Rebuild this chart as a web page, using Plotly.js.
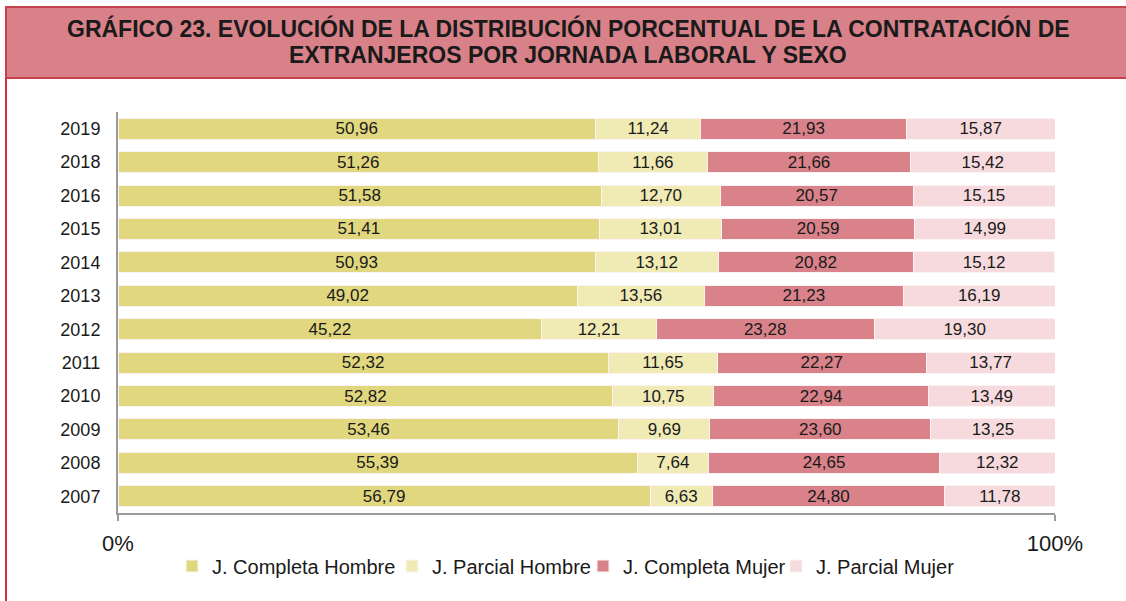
<!DOCTYPE html>
<html>
<head>
<meta charset="utf-8">
<script src="https://cdn.plot.ly/plotly-3.0.1.min.js"></script>
<style>html,body{margin:0;padding:0;background:#fff;}#chart{width:1126px;height:601px;}</style>
</head>
<body>
<div id="chart"></div>
<script>
const years = ["2019","2018","2016","2015","2014","2013","2012","2011","2010","2009","2008","2007"];
const seriesNames = ["J. Completa Hombre","J. Parcial Hombre","J. Completa Mujer","J. Parcial Mujer"];
const completaHombre = [50.96,51.26,51.58,51.41,50.93,49.02,45.22,52.32,52.82,53.46,55.39,56.79];
const parcialHombre  = [11.24,11.66,12.70,13.01,13.12,13.56,12.21,11.65,10.75,9.69,7.64,6.63];
const completaMujer  = [21.93,21.66,20.57,20.59,20.82,21.23,23.28,22.27,22.94,23.60,24.65,24.80];
const parcialMujer   = [15.87,15.42,15.15,14.99,15.12,16.19,19.30,13.77,13.49,13.25,12.32,11.78];
const xTickVals = [0,100];
const xTickText = ["0%","100%"];
const titleLines = ["GRÁFICO 23. EVOLUCIÓN DE LA DISTRIBUCIÓN PORCENTUAL DE LA CONTRATACIÓN DE",
                    "EXTRANJEROS POR JORNADA LABORAL Y SEXO"];
const colors = ["#e0d77f","#f0eab5","#d9828a","#f6dadd"];

const FONT = 'Liberation Sans, Arial, sans-serif';
const allSeries = [completaHombre, parcialHombre, completaMujer, parcialMujer];
const legendIds = ['legend', 'legend2', 'legend3', 'legend4'];
// left pixel of each legend entry
const legendLeft = [172, 392, 583, 776];
const fmt = v => v.toFixed(2).replace('.', ',');

const traces = allSeries.map((vals, i) => ({
  type: 'bar',
  orientation: 'h',
  name: seriesNames[i],
  legend: legendIds[i],
  y: years,
  x: vals,
  text: vals.map(fmt),
  textposition: 'inside',
  insidetextanchor: 'middle',
  textangle: 0,
  insidetextfont: {family: FONT, size: 17, color: '#1a1a1a'},
  hoverinfo: 'skip',
  marker: {color: colors[i], line: {color: '#fbf3f3', width: 1}}
}));

// plot area in pixels: x 118..1055, y 112..513
const L = 118, R = 1055, T = 112, B = 513;
const px = p => (p - L) / (R - L);
const py = p => (B - p) / (B - T);

const layout = {
  width: 1126, height: 601,
  margin: {l: L, r: 1126 - R, t: T, b: 601 - B},
  paper_bgcolor: '#ffffff',
  plot_bgcolor: '#ffffff',
  barmode: 'stack',
  bargap: 0.37,
  uniformtext: {mode: 'show', minsize: 17},
  showlegend: true,
  font: {family: FONT, color: '#1a1a1a'},
  xaxis: {
    range: [0, 100],
    tickvals: xTickVals,
    ticktext: xTickText,
    ticks: 'outside', ticklen: 6, tickwidth: 2, tickcolor: '#9a9a9a',
    showline: true, linecolor: '#9a9a9a', linewidth: 2,
    showgrid: false, zeroline: false,
    tickfont: {size: 22, color: '#1a1a1a'},
    ticklabelstandoff: 4,
    fixedrange: true
  },
  yaxis: {
    type: 'category',
    categoryorder: 'array', categoryarray: years,
    autorange: 'reversed',
    ticks: '',
    showline: true, linecolor: '#9a9a9a', linewidth: 2,
    showgrid: false, zeroline: false,
    tickfont: {size: 18, color: '#1a1a1a'},
    ticklabelstandoff: 12,
    fixedrange: true
  },
  annotations: titleLines.map((t, i) => ({
    xref: 'paper', yref: 'paper',
    x: px(568), y: py(29 + i * 25.5),
    xanchor: 'center', yanchor: 'middle',
    showarrow: false,
    text: '<b>' + t + '</b>',
    font: {family: FONT, size: 23, color: '#1a1a1a'}
  })),
  shapes: [
    {type: 'rect', xref: 'paper', yref: 'paper', layer: 'below',
     x0: px(6), x1: px(1140), y0: py(78), y1: py(7),
     fillcolor: '#d98189', line: {color: '#c8414f', width: 2}},
    {type: 'line', xref: 'paper', yref: 'paper',
     x0: px(6), x1: px(6), y0: py(78), y1: py(610),
     line: {color: '#d0313f', width: 2}}
  ]
};

legendIds.forEach((id, i) => {
  layout[id] = {
    orientation: 'h',
    x: legendLeft[i] / 1126, xref: 'container', xanchor: 'left',
    y: 1 - 566 / 601, yref: 'container', yanchor: 'middle',
    font: {size: 20, color: '#1a1a1a'},
    itemwidth: 30,
    bgcolor: 'rgba(0,0,0,0)'
  };
});

Plotly.newPlot('chart', traces, layout, {displayModeBar: false, staticPlot: true});
</script>
</body>
</html>
